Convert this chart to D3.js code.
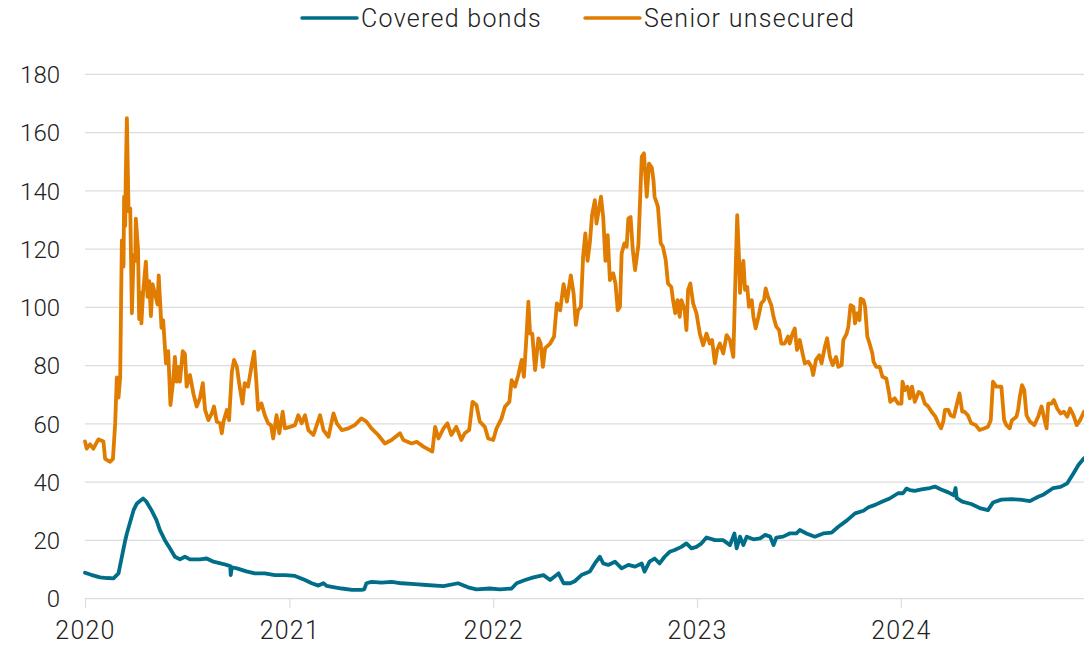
<!DOCTYPE html>
<html>
<head>
<meta charset="utf-8">
<script src="https://cdn.jsdelivr.net/npm/d3@7"></script>
<style>
  html, body { margin: 0; padding: 0; background: #fff; }
  svg { display: block; font-family: Roboto, "Noto Sans", sans-serif; }
</style>
</head>
<body>
<svg id="chart" width="1084" height="646"></svg>
<script>
const seriesNames = ['Covered bonds', 'Senior unsecured'];
const seriesColors = ['#006e89', '#e07c00'];
const yTicks = [0, 20, 40, 60, 80, 100, 120, 140, 160, 180];
const xTickYears = ['2020', '2021', '2022', '2023', '2024'];

// [date, spread]
const coveredBonds = [
    ['2020-01-01', 8.9], ['2020-01-12', 8.2], ['2020-01-28', 7.3], ['2020-02-10', 7.1], ['2020-02-21', 7.0],
    ['2020-03-01', 8.7], ['2020-03-07', 14.4], ['2020-03-13', 20], ['2020-03-16', 22.4], ['2020-03-22', 26.4],
    ['2020-03-28', 30.4], ['2020-04-03', 32.7], ['2020-04-14', 34.4], ['2020-04-20', 33.3], ['2020-04-29', 30.4],
    ['2020-05-08', 27], ['2020-05-14', 23.6], ['2020-05-23', 20.1], ['2020-06-01', 17.3], ['2020-06-10', 14.4],
    ['2020-06-19', 13.5], ['2020-06-28', 14.4], ['2020-07-07', 13.5], ['2020-07-25', 13.5], ['2020-08-06', 13.8],
    ['2020-08-18', 12.7], ['2020-09-05', 11.9], ['2020-09-17', 11.2], ['2020-09-18', 8.1], ['2020-09-20', 10.8],
    ['2020-09-29', 10.4], ['2020-10-16', 9.4], ['2020-10-31', 8.7], ['2020-11-18', 8.7], ['2020-12-06', 8.1],
    ['2020-12-24', 8.1], ['2021-01-11', 7.8], ['2021-01-29', 6.4], ['2021-02-10', 5.3], ['2021-02-22', 4.5],
    ['2021-03-03', 5.3], ['2021-03-09', 4.4], ['2021-03-18', 4.1], ['2021-04-05', 3.5], ['2021-04-23', 3.0],
    ['2021-05-10', 3.0], ['2021-05-15', 3.2], ['2021-05-19', 5.3], ['2021-05-28', 5.8], ['2021-06-15', 5.5],
    ['2021-07-03', 5.8], ['2021-07-21', 5.3], ['2021-08-14', 5.0], ['2021-09-03', 4.7], ['2021-10-04', 4.3],
    ['2021-10-30', 5.3], ['2021-11-17', 3.9], ['2021-12-02', 3.2], ['2021-12-26', 3.5], ['2022-01-13', 3.2],
    ['2022-02-03', 3.5], ['2022-02-12', 5.3], ['2022-02-27', 6.4], ['2022-03-14', 7.3], ['2022-04-01', 8.1],
    ['2022-04-13', 6.4], ['2022-04-28', 8.7], ['2022-05-07', 5.3], ['2022-05-19', 5.3], ['2022-05-27', 6.0],
    ['2022-06-08', 8.1], ['2022-06-23', 9.3], ['2022-07-02', 12.1], ['2022-07-11', 14.4], ['2022-07-17', 12.1],
    ['2022-07-26', 11.6], ['2022-08-07', 12.7], ['2022-08-19', 10.4], ['2022-08-31', 11.6], ['2022-09-12', 11],
    ['2022-09-24', 12.1], ['2022-09-29', 9.3], ['2022-10-08', 12.7], ['2022-10-17', 13.8], ['2022-10-26', 12.1],
    ['2022-11-04', 14.4], ['2022-11-13', 16.1], ['2022-11-22', 16.7], ['2022-12-04', 17.8], ['2022-12-13', 19],
    ['2022-12-22', 17.3], ['2022-12-31', 17.8], ['2023-01-09', 19], ['2023-01-18', 21], ['2023-02-02', 20.1],
    ['2023-02-17', 20.1], ['2023-03-01', 18.4], ['2023-03-09', 22.4], ['2023-03-13', 17.3], ['2023-03-19', 21.3],
    ['2023-03-25', 18.4], ['2023-03-31', 21.3], ['2023-04-12', 20.4], ['2023-04-24', 20.7], ['2023-05-03', 21.9],
    ['2023-05-12', 21.3], ['2023-05-18', 18.4], ['2023-05-23', 21], ['2023-06-04', 21.3], ['2023-06-16', 22.4],
    ['2023-06-28', 22.4], ['2023-07-04', 23.6], ['2023-07-16', 22.4], ['2023-07-31', 21.3], ['2023-08-15', 22.4],
    ['2023-08-30', 22.7], ['2023-09-11', 24.7], ['2023-09-26', 26.8], ['2023-10-11', 29.3], ['2023-10-26', 30.2],
    ['2023-11-04', 31.4], ['2023-11-16', 32.2], ['2023-11-28', 33.3], ['2023-12-12', 34.4], ['2023-12-27', 36.2],
    ['2024-01-05', 36.2], ['2024-01-11', 37.8], ['2024-01-17', 37.3], ['2024-01-26', 37], ['2024-02-07', 37.5],
    ['2024-02-22', 38], ['2024-03-02', 38.5], ['2024-03-13', 37.5], ['2024-03-26', 36.5], ['2024-04-05', 35.5],
    ['2024-04-08', 38], ['2024-04-10', 34.5], ['2024-04-20', 33.3], ['2024-05-06', 32.5], ['2024-05-23', 31],
    ['2024-06-05', 30.4], ['2024-06-14', 33], ['2024-06-29', 34], ['2024-07-18', 34.2], ['2024-08-05', 33.9],
    ['2024-08-19', 33.5], ['2024-09-03', 35], ['2024-09-13', 35.8], ['2024-09-30', 38], ['2024-10-13', 38.4],
    ['2024-10-25', 39.6], ['2024-11-05', 43], ['2024-11-14', 45.9], ['2024-11-24', 48.2]
];

const seniorUnsecured = [
    ['2020-01-01', 54], ['2020-01-04', 51.5], ['2020-01-10', 53], ['2020-01-16', 51.5], ['2020-01-25', 54.7],
    ['2020-02-03', 54], ['2020-02-06', 48], ['2020-02-15', 47], ['2020-02-20', 48], ['2020-02-24', 60],
    ['2020-02-27', 76], ['2020-03-01', 69], ['2020-03-04', 76], ['2020-03-07', 123], ['2020-03-10', 114],
    ['2020-03-11', 138], ['2020-03-13', 128], ['2020-03-14', 145], ['2020-03-16', 165], ['2020-03-19', 133],
    ['2020-03-22', 134], ['2020-03-25', 98], ['2020-03-28', 118], ['2020-03-31', 116], ['2020-04-01', 130.5],
    ['2020-04-05', 120], ['2020-04-07', 96], ['2020-04-10', 105], ['2020-04-11', 94.5], ['2020-04-14', 105],
    ['2020-04-19', 115.7], ['2020-04-22', 103.6], ['2020-04-25', 109], ['2020-04-28', 97], ['2020-05-01', 108],
    ['2020-05-05', 105], ['2020-05-10', 101], ['2020-05-12', 111], ['2020-05-17', 93], ['2020-05-20', 95.6],
    ['2020-05-25', 80.8], ['2020-05-29', 85], ['2020-06-02', 66.5], ['2020-06-07', 75], ['2020-06-10', 83],
    ['2020-06-13', 74.5], ['2020-06-16', 79.6], ['2020-06-19', 74.5], ['2020-06-24', 85], ['2020-06-28', 84],
    ['2020-07-01', 72.8], ['2020-07-07', 76.8], ['2020-07-13', 70.5], ['2020-07-19', 66], ['2020-07-25', 69],
    ['2020-07-30', 74], ['2020-08-03', 64.8], ['2020-08-09', 61.3], ['2020-08-15', 63.6], ['2020-08-19', 66],
    ['2020-08-24', 60.8], ['2020-08-30', 60.2], ['2020-09-02', 56.8], ['2020-09-05', 60.8], ['2020-09-11', 64.8],
    ['2020-09-15', 61.3], ['2020-09-20', 78], ['2020-09-24', 82], ['2020-09-29', 79.6], ['2020-10-03', 74],
    ['2020-10-09', 67], ['2020-10-13', 74], ['2020-10-19', 72.8], ['2020-10-25', 79.6], ['2020-10-30', 84.8],
    ['2020-11-03', 74], ['2020-11-06', 64.8], ['2020-11-12', 67], ['2020-11-18', 63], ['2020-11-24', 60.2],
    ['2020-11-29', 59.6], ['2020-12-03', 55], ['2020-12-09', 63], ['2020-12-14', 56.8], ['2020-12-20', 64.2],
    ['2020-12-24', 58.5], ['2021-01-02', 59], ['2021-01-11', 59.6], ['2021-01-17', 63], ['2021-01-23', 60.2],
    ['2021-01-29', 63], ['2021-02-04', 57.9], ['2021-02-13', 56.2], ['2021-02-19', 59.6], ['2021-02-25', 63],
    ['2021-03-03', 57.9], ['2021-03-12', 55.6], ['2021-03-21', 63.6], ['2021-03-27', 60.2], ['2021-04-05', 57.9],
    ['2021-04-17', 58.5], ['2021-04-28', 59.6], ['2021-05-10', 61.9], ['2021-05-19', 60.8], ['2021-05-28', 58.5],
    ['2021-06-09', 56.2], ['2021-06-21', 53.3], ['2021-07-03', 54.5], ['2021-07-18', 56.8], ['2021-07-24', 54.5],
    ['2021-08-08', 53.3], ['2021-08-17', 53.9], ['2021-08-29', 52.2], ['2021-09-14', 50.5], ['2021-09-19', 59],
    ['2021-09-25', 55], ['2021-10-04', 58.5], ['2021-10-11', 60.2], ['2021-10-18', 56.2], ['2021-10-27', 59],
    ['2021-11-05', 54.5], ['2021-11-11', 56.8], ['2021-11-19', 57.9], ['2021-11-25', 67.6], ['2021-12-02', 66.5],
    ['2021-12-08', 60.8], ['2021-12-17', 59], ['2021-12-23', 55], ['2022-01-01', 54.5], ['2022-01-07', 58.5],
    ['2022-01-16', 61.9], ['2022-01-22', 65.9], ['2022-01-30', 67.6], ['2022-02-03', 75], ['2022-02-09', 72.8],
    ['2022-02-15', 76.8], ['2022-02-21', 82], ['2022-02-25', 76.2], ['2022-03-01', 88.2], ['2022-03-05', 102],
    ['2022-03-08', 91], ['2022-03-12', 91], ['2022-03-17', 78.5], ['2022-03-23', 89.4], ['2022-03-27', 87.6],
    ['2022-03-31', 79.6], ['2022-04-04', 86], ['2022-04-13', 87.6], ['2022-04-20', 90], ['2022-04-25', 101.4],
    ['2022-05-01', 99], ['2022-05-07', 108], ['2022-05-13', 102], ['2022-05-20', 111], ['2022-05-25', 104.8],
    ['2022-05-29', 94], ['2022-06-02', 99], ['2022-06-07', 100.2], ['2022-06-11', 117.4], ['2022-06-15', 125.4],
    ['2022-06-19', 116], ['2022-06-23', 122], ['2022-06-27', 131.7], ['2022-07-02', 136.8], ['2022-07-05', 128.8],
    ['2022-07-09', 133.4], ['2022-07-13', 138], ['2022-07-17', 131], ['2022-07-21', 116], ['2022-07-25', 124.8],
    ['2022-07-29', 109.4], ['2022-08-04', 111.7], ['2022-08-08', 108.2], ['2022-08-12', 99], ['2022-08-16', 100.2],
    ['2022-08-19', 118.5], ['2022-08-24', 122], ['2022-08-28', 120.8], ['2022-08-31', 130.5], ['2022-09-04', 131],
    ['2022-09-08', 119.7], ['2022-09-12', 112.8], ['2022-09-18', 121.4], ['2022-09-24', 151.7], ['2022-09-28', 152.9],
    ['2022-10-03', 138], ['2022-10-07', 149.4], ['2022-10-12', 148], ['2022-10-15', 143.7], ['2022-10-17', 138],
    ['2022-10-23', 134.6], ['2022-10-28', 122], ['2022-11-01', 120.8], ['2022-11-06', 116.2], ['2022-11-10', 108.2],
    ['2022-11-16', 107], ['2022-11-19', 102.5], ['2022-11-23', 98], ['2022-11-27', 102.5], ['2022-12-01', 96.8],
    ['2022-12-04', 102.5], ['2022-12-10', 99], ['2022-12-13', 92.2], ['2022-12-16', 106], ['2022-12-20', 108.2],
    ['2022-12-25', 101.4], ['2022-12-31', 98], ['2023-01-06', 91], ['2023-01-12', 87], ['2023-01-18', 91],
    ['2023-01-24', 87.6], ['2023-01-28', 88.8], ['2023-02-02', 80.8], ['2023-02-06', 85.4], ['2023-02-11', 87.6],
    ['2023-02-17', 84.2], ['2023-02-23', 90.5], ['2023-03-01', 88.8], ['2023-03-07', 83], ['2023-03-11', 111.7],
    ['2023-03-14', 131.7], ['2023-03-17', 118], ['2023-03-19', 105], ['2023-03-22', 112], ['2023-03-25', 116],
    ['2023-03-28', 106], ['2023-04-01', 107], ['2023-04-04', 100.2], ['2023-04-09', 102.5], ['2023-04-12', 96.8],
    ['2023-04-16', 92.8], ['2023-04-21', 96.8], ['2023-04-26', 101.4], ['2023-05-01', 102.5], ['2023-05-04', 106.5],
    ['2023-05-08', 103.7], ['2023-05-14', 100.8], ['2023-05-18', 96.8], ['2023-05-23', 93.4], ['2023-05-28', 92.2],
    ['2023-06-01', 87.6], ['2023-06-07', 87.6], ['2023-06-13', 90], ['2023-06-16', 87.6], ['2023-06-21', 91],
    ['2023-06-25', 92.8], ['2023-06-29', 85.4], ['2023-07-04', 88.8], ['2023-07-09', 84.2], ['2023-07-13', 80.8],
    ['2023-07-19', 81.4], ['2023-07-25', 79.6], ['2023-07-28', 76.8], ['2023-08-02', 82], ['2023-08-08', 83.6],
    ['2023-08-12', 80.8], ['2023-08-18', 86.5], ['2023-08-22', 89.4], ['2023-08-27', 83], ['2023-09-01', 80.2],
    ['2023-09-07', 83], ['2023-09-11', 79.6], ['2023-09-17', 80.2], ['2023-09-20', 88.8], ['2023-09-26', 91],
    ['2023-09-29', 93.4], ['2023-10-03', 100.8], ['2023-10-08', 100.2], ['2023-10-11', 94.5], ['2023-10-15', 98],
    ['2023-10-19', 95.6], ['2023-10-21', 103], ['2023-10-26', 102.5], ['2023-10-29', 100.2], ['2023-11-02', 90],
    ['2023-11-06', 87.6], ['2023-11-11', 84.2], ['2023-11-13', 81.4], ['2023-11-18', 79.6], ['2023-11-24', 79.6],
    ['2023-11-29', 76.2], ['2023-12-06', 75.6], ['2023-12-11', 70.5], ['2023-12-13', 67.6], ['2023-12-21', 68.8],
    ['2023-12-27', 67], ['2024-01-02', 67], ['2024-01-04', 74.5], ['2024-01-08', 71.6], ['2024-01-13', 72.8],
    ['2024-01-17', 68.8], ['2024-01-21', 72.8], ['2024-01-26', 67.6], ['2024-02-02', 71], ['2024-02-07', 70.5],
    ['2024-02-13', 67], ['2024-02-19', 66], ['2024-02-25', 64.2], ['2024-03-03', 62.5], ['2024-03-08', 60.2],
    ['2024-03-13', 58.5], ['2024-03-17', 60.8], ['2024-03-20', 64.8], ['2024-03-26', 64.8], ['2024-03-30', 63],
    ['2024-04-05', 62.5], ['2024-04-10', 66.5], ['2024-04-15', 70.5], ['2024-04-20', 64.2], ['2024-04-24', 64.2],
    ['2024-04-30', 63], ['2024-05-06', 60.2], ['2024-05-14', 59.6], ['2024-05-21', 57.9], ['2024-05-30', 58.5],
    ['2024-06-05', 59], ['2024-06-10', 61.3], ['2024-06-14', 74.5], ['2024-06-20', 72.8], ['2024-06-29', 72.8],
    ['2024-07-04', 61.3], ['2024-07-08', 59.6], ['2024-07-14', 58.5], ['2024-07-18', 61.3], ['2024-07-26', 62.5],
    ['2024-07-29', 64.8], ['2024-08-01', 69.3], ['2024-08-05', 73.3], ['2024-08-09', 71.6], ['2024-08-13', 63],
    ['2024-08-19', 60.8], ['2024-08-27', 59.6], ['2024-09-03', 62.5], ['2024-09-09', 66], ['2024-09-13', 62.5],
    ['2024-09-18', 58.5], ['2024-09-21', 67], ['2024-09-27', 67], ['2024-10-01', 68.2], ['2024-10-07', 65.3],
    ['2024-10-13', 63.6], ['2024-10-19', 64.2], ['2024-10-25', 62.5], ['2024-10-30', 65.3], ['2024-11-05', 63],
    ['2024-11-11', 59.6], ['2024-11-17', 61.3], ['2024-11-24', 64.2]
];

const parseDate = d3.timeParse('%Y-%m-%d');
const textColor = '#222';
const gridColor = '#dcdcdc';
const FONT_SIZE = 24;

const svg = d3.select('#chart');

const x = d3.scaleTime()
    .domain([parseDate('2020-01-01'), parseDate('2024-11-24')])
    .range([85, 1084]);

const y = d3.scaleLinear()
    .domain([0, 180])
    .range([598.7, 74.4]);

// horizontal grid
svg.append('g')
    .selectAll('line')
    .data(yTicks)
    .join('line')
    .attr('x1', 85)
    .attr('x2', 1084)
    .attr('y1', d => y(d))
    .attr('y2', d => y(d))
    .attr('stroke', gridColor)
    .attr('stroke-width', 1.2);

// y labels
svg.append('g')
    .selectAll('text')
    .data(yTicks)
    .join('text')
    .attr('x', 60)
    .attr('y', d => y(d))
    .attr('dy', '0.36em')
    .attr('text-anchor', 'end')
    .style('font-size', FONT_SIZE + 'px')
    .style('font-weight', 300)
    .style('fill', textColor)
    .text(d => d);

// x axis
const xAxis = svg.append('g')
    .attr('transform', `translate(0,${y(0)})`)
    .call(d3.axisBottom(x)
        .tickValues(xTickYears.map(t => parseDate(t + '-01-01')))
        .tickFormat(d3.timeFormat('%Y'))
        .tickSize(9)
        .tickPadding(14));
xAxis.select('.domain').remove();
xAxis.selectAll('.tick line').attr('stroke', gridColor).attr('stroke-width', 1.2);
xAxis.selectAll('.tick text')
    .style('font-family', 'Roboto, "Noto Sans", sans-serif')
    .style('font-size', '25px')
    .style('font-weight', 300)
    .style('letter-spacing', '1.2px')
    .style('fill', textColor);

const line = d3.line()
    .x(d => x(parseDate(d[0])))
    .y(d => y(d[1]));

[coveredBonds, seniorUnsecured].forEach((data, i) => {
    svg.append('path')
        .datum(data)
        .attr('d', line)
        .attr('fill', 'none')
        .attr('stroke', seriesColors[i])
        .attr('stroke-width', 3.8)
        .attr('stroke-linejoin', 'round')
        .attr('stroke-linecap', 'round');
});

// legend
const legendX = [302, 585];
const legend = svg.append('g');
seriesNames.forEach((name, i) => {
    const g = legend.append('g').attr('transform', `translate(${legendX[i]},18)`);
    g.append('line')
        .attr('x1', 0).attr('x2', 55)
        .attr('stroke', seriesColors[i])
        .attr('stroke-width', 3.5)
        .attr('stroke-linecap', 'round');
    g.append('text')
        .attr('x', 59)
        .attr('dy', '0.36em')
        .style('font-size', '25px')
        .style('font-weight', 300)
        .style('letter-spacing', '1.3px')
        .style('fill', textColor)
        .text(name);
});
</script>
</body>
</html>
